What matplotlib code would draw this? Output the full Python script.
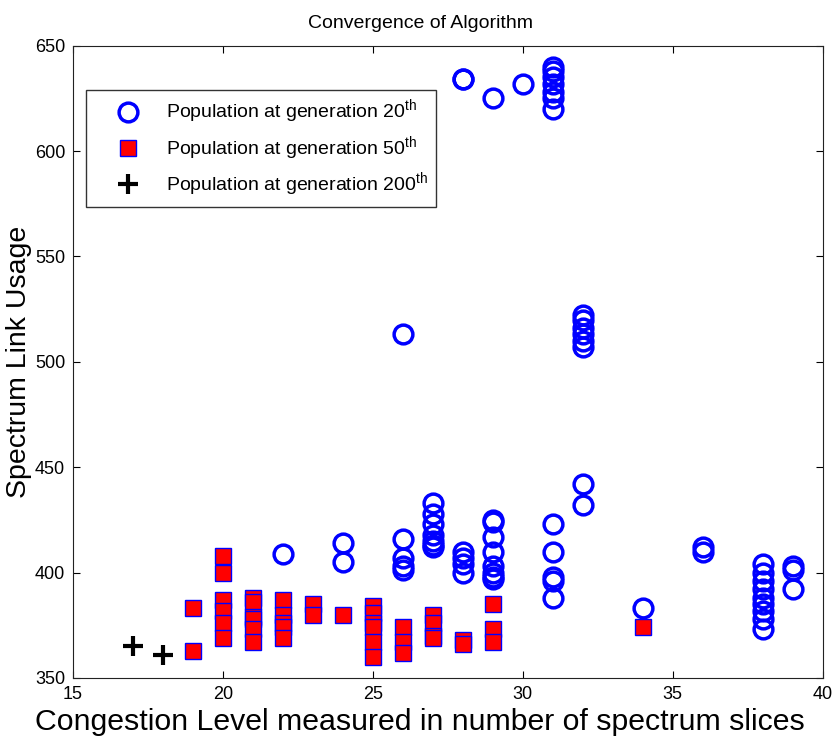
import matplotlib
matplotlib.use("Agg")
import matplotlib.pyplot as plt

plt.rcParams['font.family'] = ['Liberation Sans', 'DejaVu Sans']
plt.rcParams['mathtext.fontset'] = 'custom'
plt.rcParams['mathtext.rm'] = 'Liberation Sans'

# Generation 20 population (blue circles)
gen20_x = [22, 24, 24, 26, 26, 26, 26, 26,
           27, 27, 27, 27, 27, 27, 27,
           28, 28, 28, 28, 28, 28,
           29, 29, 29, 29, 29, 29, 29, 29, 29,
           30,
           31, 31, 31, 31, 31, 31, 31, 31, 31, 31, 31, 31,
           32, 32, 32, 32, 32, 32, 32, 32,
           34, 36, 36,
           38, 38, 38, 38, 38, 38, 38, 38, 38,
           39, 39, 39]
gen20_y = [409, 414, 405, 513, 416, 407, 403, 401,
           433, 428, 423, 418, 415, 413, 412,
           634, 410, 407, 404, 400, 634,
           625, 425, 424, 417, 410, 403, 400, 398, 397,
           632,
           640, 638, 635, 632, 628, 625, 620, 423, 410, 398, 396, 388,
           522, 520, 516, 513, 510, 507, 442, 432,
           383, 412, 410,
           404, 400, 396, 392, 388, 385, 382, 378, 373,
           403, 401, 392]

# Generation 50 population (red squares)
gen50_x = [19, 19,
           20, 20, 20, 20, 20, 20,
           21, 21, 21, 21, 21, 21,
           22, 22, 22, 22, 22,
           23, 23, 24,
           25, 25, 25, 25, 25, 25,
           26, 26, 26,
           27, 27, 27, 27,
           28, 28,
           29, 29, 29,
           34]
gen50_y = [383, 363,
           408, 400, 387, 382, 376, 369,
           388, 386, 379, 378, 373, 367,
           387, 380, 376, 374, 369,
           385, 380, 380,
           384, 381, 376, 374, 367, 360,
           374, 367, 362,
           380, 376, 370, 369,
           368, 366,
           385, 373, 367,
           374]

# Generation 200 population (black plus)
gen200_x = [17, 18]
gen200_y = [365, 361]

x_ticks = [15, 20, 25, 30, 35, 40]
y_ticks = [350, 400, 450, 500, 550, 600, 650]

fig = plt.figure(figsize=(8.37, 7.42), dpi=100)
ax = fig.add_axes([0.0869, 0.0863, 0.8961, 0.8521])

ax.plot(gen20_x, gen20_y, linestyle='none', marker='o', markersize=13.5,
        markerfacecolor='none', markeredgecolor='#0000ff', markeredgewidth=2.5,
        label=r'Population at generation 20$^{\mathrm{th}}$')
ax.plot(gen50_x, gen50_y, linestyle='none', marker='s', markersize=12,
        markerfacecolor='#ff0000', markeredgecolor='#0000ff', markeredgewidth=1.0,
        label=r'Population at generation 50$^{\mathrm{th}}$')
ax.plot(gen200_x, gen200_y, linestyle='none', marker='+', markersize=15,
        color='black', markeredgewidth=3,
        label=r'Population at generation 200$^{\mathrm{th}}$')

ax.set_xlim(15, 40)
ax.set_ylim(350, 650)
ax.set_xticks(x_ticks)
ax.set_yticks(y_ticks)
ax.tick_params(direction='in', top=True, right=True, labelsize=13, length=5, pad=5.5)
for s in ax.spines.values():
    s.set_color('#222222')

ax.set_title('Convergence of Algorithm', fontsize=14, pad=13)
ax.title.set_x(0.463)
ax.set_xlabel('Congestion Level measured in number of spectrum slices', fontsize=21.8)
ax.xaxis.set_label_coords(0.463, -0.048)
ax.set_ylabel('Spectrum Link Usage', fontsize=20.5)
ax.yaxis.set_label_coords(-0.054, 0.5)

leg = ax.legend(loc='upper left', bbox_to_anchor=(0.0177, 0.930), borderaxespad=0,
                fontsize=14, frameon=True, fancybox=False, edgecolor='black',
                borderpad=0.4, labelspacing=0.4, handletextpad=0.2, handlelength=3.5)
leg.get_frame().set_linewidth(1.0)

fig.savefig('out.png', dpi=100)
